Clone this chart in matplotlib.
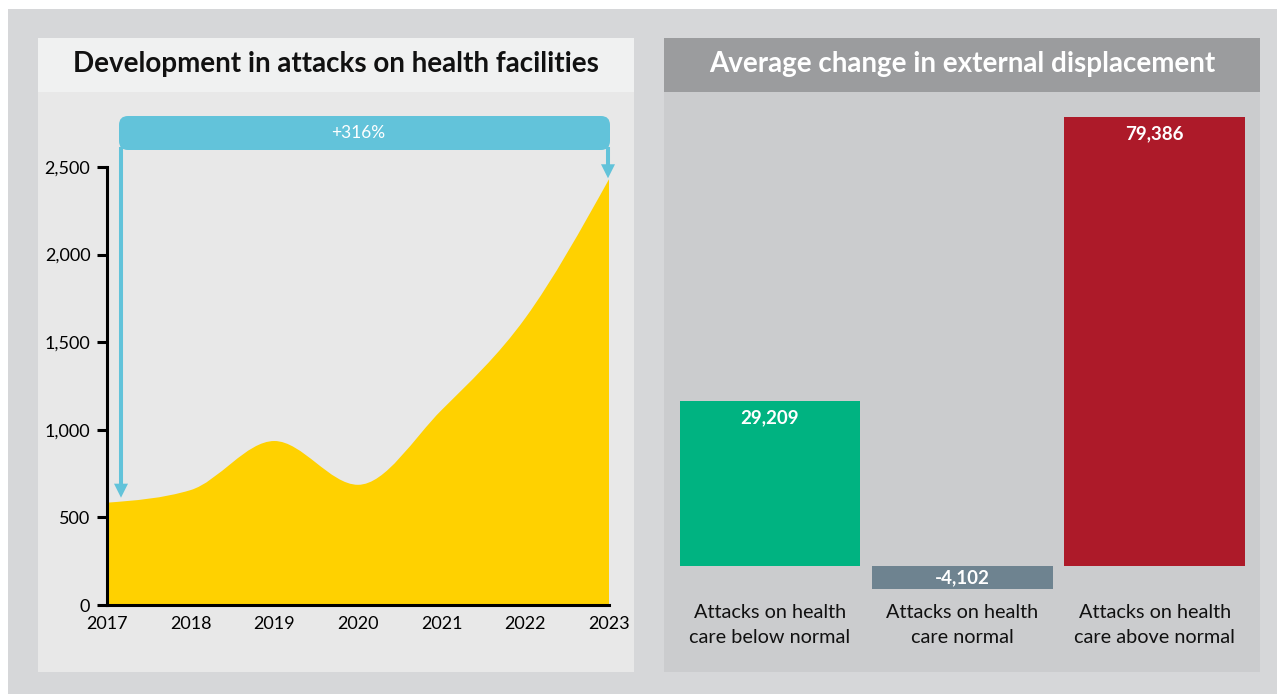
import numpy as np
import matplotlib
matplotlib.use("Agg")
import matplotlib.pyplot as plt
from matplotlib.path import Path
from matplotlib.patches import PathPatch, Rectangle, FancyBboxPatch, Polygon
from matplotlib.lines import Line2D
from matplotlib.transforms import IdentityTransform

plt.rcParams['font.family'] = ['Lato', 'DejaVu Sans']

# attacks on health facilities per year
years = [2017, 2018, 2019, 2020, 2021, 2022, 2023]
attacks = [584, 656, 936, 686, 1113, 1638, 2430]
y_ticks = [0, 500, 1000, 1500, 2000, 2500]

# average change in external displacement
groups = ["Attacks on health\ncare below normal",
          "Attacks on health\ncare normal",
          "Attacks on health\ncare above normal"]
displacement = [29209, -4102, 79386]
bar_colors = ["#00b381", "#6e8390", "#ad1a29"]

W, H = 1277, 694
fig = plt.figure(figsize=(W / 100, H / 100), dpi=100, facecolor="#d6d7d9")


def box(x0, y0, x1, y1):
    # pixel box (top-left origin) -> figure fraction rect
    return [x0 / W, 1 - y1 / H, (x1 - x0) / W, (y1 - y0) / H]


def panel(x0, y0, x1, y1, color):
    r = box(x0, y0, x1, y1)
    fig.add_artist(Rectangle((r[0], r[1]), r[2], r[3], transform=fig.transFigure,
                             facecolor=color, edgecolor="none", zorder=0))


# white margin strip at top/left
panel(0, 0, W, 9, "white")
panel(0, 0, 8, H, "white")

# left panel
panel(38, 38, 634, 672, "#e8e8e8")
panel(38, 38, 634, 92, "#f0f1f1")
fig.text(336 / W, 1 - 64 / H, "Development in attacks on health facilities",
         ha="center", va="center", fontsize=20, fontweight="bold", color="#111111")

# right panel
panel(664, 38, 1260, 672, "#cbccce")
panel(664, 38, 1260, 92, "#9b9c9e")
fig.text(962 / W, 1 - 64 / H, "Average change in external displacement",
         ha="center", va="center", fontsize=20, fontweight="bold", color="white")


def monotone_path(x, y):
    # monotone cubic (d3 monotoneX style) as bezier segments
    x = np.asarray(x, float)
    y = np.asarray(y, float)
    h = np.diff(x)
    s = np.diff(y) / h
    t = np.zeros_like(y)
    for i in range(1, len(x) - 1):
        p = (s[i - 1] * h[i] + s[i] * h[i - 1]) / (h[i - 1] + h[i])
        t[i] = (np.sign(s[i - 1]) + np.sign(s[i])) * min(abs(s[i - 1]), abs(s[i]), 0.5 * abs(p))
    t[0] = (3 * s[0] - t[1]) / 2
    t[-1] = (3 * s[-1] - t[-2]) / 2
    verts = [(x[0], 0), (x[0], y[0])]
    codes = [Path.MOVETO, Path.LINETO]
    for i in range(len(x) - 1):
        dx = h[i] / 3
        verts += [(x[i] + dx, y[i] + dx * t[i]),
                  (x[i + 1] - dx, y[i + 1] - dx * t[i + 1]),
                  (x[i + 1], y[i + 1])]
        codes += [Path.CURVE4] * 3
    verts += [(x[-1], 0), (x[0], 0)]
    codes += [Path.LINETO, Path.CLOSEPOLY]
    return Path(verts, codes)


# area chart
ax = fig.add_axes(box(107, 167, 609, 605))
ax.set_facecolor("none")
ax.add_patch(PathPatch(monotone_path(years, attacks), facecolor="#ffd100",
                       edgecolor="none", zorder=1))
ax.set_xlim(years[0], years[-1])
ax.set_ylim(0, y_ticks[-1])
ax.set_xticks(years)
ax.set_yticks(y_ticks)
ax.set_yticklabels([f"{v:,}" for v in y_ticks])
for side in ("top", "right"):
    ax.spines[side].set_visible(False)
for side in ("left", "bottom"):
    ax.spines[side].set_linewidth(2.2)
    ax.spines[side].set_color("black")
    ax.spines[side].set_zorder(3)
ax.tick_params(axis="y", length=7, width=2.2, pad=5, labelsize=13)
ax.tick_params(axis="x", length=0, pad=8, labelsize=13)

# growth bracket between first and last year
fig.canvas.draw()
p0 = ax.transData.transform((years[0], attacks[0]))
p1 = ax.transData.transform((years[-1], attacks[-1]))
top = ax.transAxes.transform((0, 1))[1]
lx, rx = p0[0] + 14, p1[0] - 1
band_lo, band_hi = top + 17, top + 51
ah = 14
fig.add_artist(FancyBboxPatch((lx - 2, band_lo), rx - lx + 4, band_hi - band_lo,
                              boxstyle="round,pad=0,rounding_size=9",
                              transform=IdentityTransform(), facecolor="#62c3da",
                              edgecolor="none", zorder=4))
for xl, tip in ((lx, p0[1] + 5), (rx, p1[1] + 1)):
    fig.add_artist(Line2D([xl, xl], [band_lo + 1, tip + ah - 1], lw=2.9,
                          color="#62c3da", transform=IdentityTransform(), zorder=4))
    fig.add_artist(Polygon([(xl - 7, tip + ah), (xl + 7, tip + ah), (xl, tip)],
                           closed=True, transform=IdentityTransform(),
                           facecolor="#62c3da", edgecolor="none", zorder=4))
growth = round((attacks[-1] / attacks[0] - 1) * 100)
fig.text((p0[0] + p1[0]) / 2 / W, (band_lo + band_hi) / 2 / H, f"+{growth}%",
         ha="center", va="center", color="white", fontsize=12.5, zorder=5)

# bar chart
ax2 = fig.add_axes(box(673.75, 117, 1250.75, 589))
ax2.set_facecolor("none")
pos = np.arange(len(groups))
ax2.bar(pos, displacement, width=0.94, color=bar_colors)
ax2.set_xlim(-0.5, len(groups) - 0.5)
ax2.set_ylim(min(displacement), max(displacement))
ax2.axis("off")
for i, v in enumerate(displacement):
    if v >= 0:
        ax2.annotate(f"{v:,}", (i, v), xytext=(0, -6), textcoords="offset points",
                     ha="center", va="top", color="white", fontsize=13.5, fontweight="bold")
    else:
        ax2.text(i, v / 2, f"{v:,}", ha="center", va="center", color="white",
                 fontsize=13.5, fontweight="bold")
    ax2.annotate(groups[i], (i, 0), xycoords=("data", "axes fraction"), xytext=(0, -11),
                 textcoords="offset points", ha="center", va="top", fontsize=14.3,
                 linespacing=1.55, color="#111111")

fig.savefig("out.png", dpi=100, facecolor=fig.get_facecolor())
